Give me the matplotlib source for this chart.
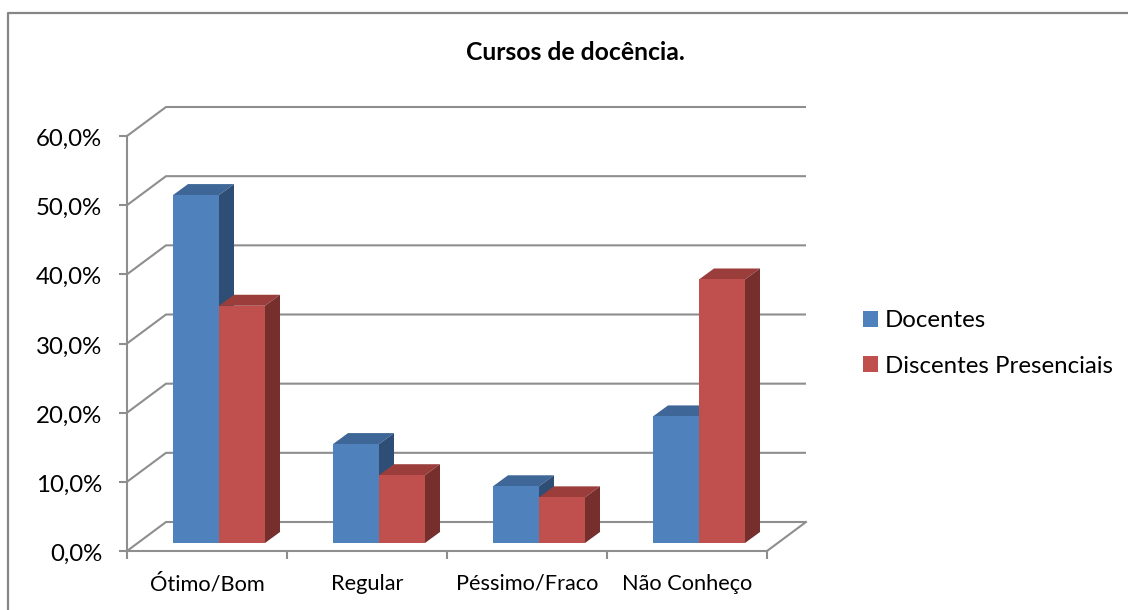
import matplotlib
matplotlib.use("Agg")
import matplotlib.pyplot as plt
from matplotlib.lines import Line2D
from matplotlib.patches import Patch, Polygon
from matplotlib.transforms import Affine2D

categories = ["Ótimo/Bom", "Regular", "Péssimo/Fraco", "Não Conheço"]
docentes = [50.3, 14.3, 8.2, 18.3]
discentes = [34.3, 9.8, 6.6, 38.1]
y_ticks = [0, 10, 20, 30, 40, 50, 60]
y_tick_labels = ["0,0%", "10,0%", "20,0%", "30,0%", "40,0%", "50,0%", "60,0%"]
title = "Cursos de docência."
series_names = ["Docentes", "Discentes Presenciais"]

W, H = 1128, 610
plt.rcParams["font.family"] = ["Lato", "DejaVu Sans"]
fig = plt.figure(figsize=(W / 100, H / 100), dpi=100, facecolor="white")
ax = fig.add_axes([127 / W, (H - 551) / H, 640 / W, 415 / H])
ax.set_xlim(0, 4)
ax.set_ylim(0, 60)
ax.patch.set_visible(False)

PX_X = 160.0          # pixels per category
PX_Y = 415 / 60.0     # pixels per percent
wall_dx, wall_dy = 39 / PX_X, 29 / PX_Y
bar_dx, bar_dy = 15 / PX_X, 11 / PX_Y
bar_w = 46 / PX_X
group_shift = 12 / PX_X
base = 8 / PX_Y

GRID = "#8e8e8e"
for v in y_ticks:
    ax.plot([0, wall_dx, 4 + wall_dx], [v, v + wall_dy, v + wall_dy],
            color=GRID, lw=1.5, clip_on=False, zorder=1, solid_capstyle="butt")
ax.plot([4, 4 + wall_dx], [0, wall_dy], color=GRID, lw=1.5, clip_on=False, zorder=1)

colors = [("#4F81BD", "#3E6696", "#2F4E76"), ("#C0504D", "#9A3D3B", "#772F2E")]
for s, (vals, (front, top, side)) in enumerate(zip([docentes, discentes], colors)):
    for i, v in enumerate(vals):
        x0 = i + 0.5 + group_shift - bar_w + s * bar_w
        x1 = x0 + bar_w
        yt = base + v
        z = 3 + i + s * 0.1
        ax.add_patch(Polygon([(x0, yt), (x1, yt), (x1 + bar_dx, yt + bar_dy), (x0 + bar_dx, yt + bar_dy)],
                             fc=top, ec="none", clip_on=False, zorder=z))
        ax.add_patch(Polygon([(x1, base), (x1 + bar_dx, base + bar_dy), (x1 + bar_dx, yt + bar_dy), (x1, yt)],
                             fc=side, ec="none", clip_on=False, zorder=z))
        ax.bar(x0, v, width=bar_w, bottom=base, align="edge", color=front, lw=0, zorder=z + 0.01, clip_on=False)

for name in ("top", "right"):
    ax.spines[name].set_visible(False)
for name in ("left", "bottom"):
    ax.spines[name].set_color(GRID)
    ax.spines[name].set_linewidth(1.5)
    ax.spines[name].set_zorder(2)

ax.set_yticks(y_ticks)
ax.set_yticklabels(y_tick_labels, fontsize=17.3, color="black")
ax.tick_params(axis="y", length=6, width=1.5, color=GRID, pad=11.8)
for label in ax.get_yticklabels():
    label.set_transform(label.get_transform() + Affine2D().translate(0, -1.5))
ax.set_xticks([0.5, 1.5, 2.5, 3.5])
ax.set_xticklabels(categories, fontsize=15.7, color="black")
ax.set_xticks([0, 1, 2, 3, 4], minor=True)
ax.tick_params(axis="x", which="major", length=0, pad=16.5)
ax.tick_params(axis="x", which="minor", length=6, width=1.5, color=GRID)

fig.text(575 / W, 1 - 53 / H, title, fontsize=17.8, fontweight="bold", ha="center", va="center")

handles = [Patch(fc=colors[0][0], ec="none"), Patch(fc=colors[1][0], ec="none")]
fig.legend(handles, series_names, loc="center left", bbox_to_anchor=(863 / W, 1 - 343.5 / H),
           frameon=False, fontsize=17.3, handlelength=0.625, handleheight=0.625, handletextpad=0.29,
           labelspacing=1.0, borderpad=0, borderaxespad=0)

FRAME = "#868686"
fig.add_artist(Line2D([7.5 / W, 7.5 / W, 1], [0, 1 - 13 / H, 1 - 13 / H], color=FRAME, lw=1.6))

fig.savefig("out.png", dpi=100)
